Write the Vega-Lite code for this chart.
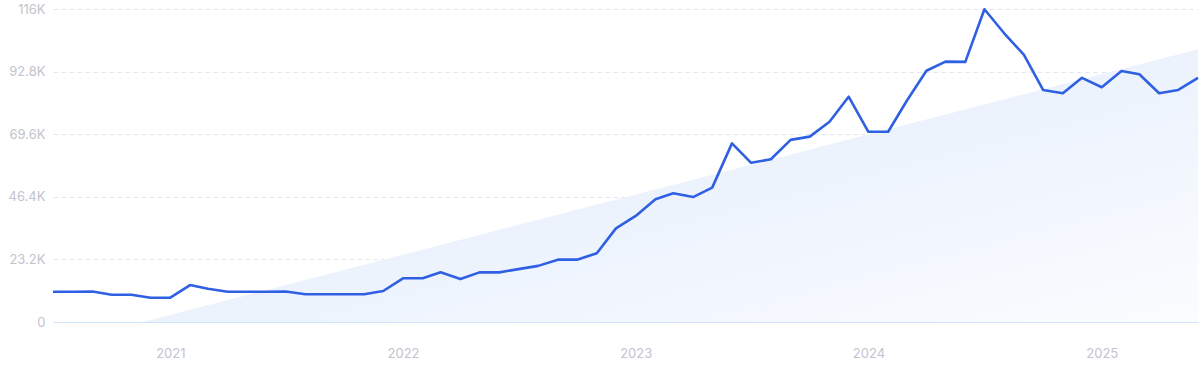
{
  "$schema": "https://vega.github.io/schema/vega-lite/v6.json",
  "width": 1145,
  "height": 313,
  "autosize": {"type": "none"},
  "padding": {"left": 53, "top": 9, "right": 2, "bottom": 49},
  "background": "white",
  "config": {"view": {"stroke": null}, "font": "Inter"},
  "datasets": {
    "series": [
      {"date": "2020-07-01", "value": 11200},
      {"date": "2020-08-01", "value": 11200},
      {"date": "2020-09-01", "value": 11300},
      {"date": "2020-10-01", "value": 10100},
      {"date": "2020-11-01", "value": 10100},
      {"date": "2020-12-01", "value": 9000},
      {"date": "2021-01-01", "value": 9000},
      {"date": "2021-02-01", "value": 13700},
      {"date": "2021-03-01", "value": 12300},
      {"date": "2021-04-01", "value": 11200},
      {"date": "2021-05-01", "value": 11200},
      {"date": "2021-06-01", "value": 11200},
      {"date": "2021-07-01", "value": 11300},
      {"date": "2021-08-01", "value": 10300},
      {"date": "2021-09-01", "value": 10300},
      {"date": "2021-10-01", "value": 10300},
      {"date": "2021-11-01", "value": 10300},
      {"date": "2021-12-01", "value": 11500},
      {"date": "2022-01-01", "value": 16200},
      {"date": "2022-02-01", "value": 16200},
      {"date": "2022-03-01", "value": 18400},
      {"date": "2022-04-01", "value": 15900},
      {"date": "2022-05-01", "value": 18400},
      {"date": "2022-06-01", "value": 18400},
      {"date": "2022-07-01", "value": 19600},
      {"date": "2022-08-01", "value": 20800},
      {"date": "2022-09-01", "value": 23100},
      {"date": "2022-10-01", "value": 23100},
      {"date": "2022-11-01", "value": 25500},
      {"date": "2022-12-01", "value": 34700},
      {"date": "2023-01-01", "value": 39300},
      {"date": "2023-02-01", "value": 45500},
      {"date": "2023-03-01", "value": 47700},
      {"date": "2023-04-01", "value": 46300},
      {"date": "2023-05-01", "value": 49800},
      {"date": "2023-06-01", "value": 66200},
      {"date": "2023-07-01", "value": 59000},
      {"date": "2023-08-01", "value": 60300},
      {"date": "2023-09-01", "value": 67500},
      {"date": "2023-10-01", "value": 68700},
      {"date": "2023-11-01", "value": 74200},
      {"date": "2023-12-01", "value": 83500},
      {"date": "2024-01-01", "value": 70500},
      {"date": "2024-02-01", "value": 70500},
      {"date": "2024-03-01", "value": 81900},
      {"date": "2024-04-01", "value": 93100},
      {"date": "2024-05-01", "value": 96500},
      {"date": "2024-06-01", "value": 96400},
      {"date": "2024-07-01", "value": 115900},
      {"date": "2024-08-01", "value": 107000},
      {"date": "2024-09-01", "value": 99000},
      {"date": "2024-10-01", "value": 86000},
      {"date": "2024-11-01", "value": 84800},
      {"date": "2024-12-01", "value": 90500},
      {"date": "2025-01-01", "value": 87000},
      {"date": "2025-02-01", "value": 93000},
      {"date": "2025-03-01", "value": 91800},
      {"date": "2025-04-01", "value": 84800},
      {"date": "2025-05-01", "value": 86000},
      {"date": "2025-06-01", "value": 90500}
    ],
    "trend": [
      {"date": "2020-11-19", "value": 0},
      {"date": "2025-06-01", "value": 101100}
    ]
  },
  "layer": [
    {
      "data": {"name": "trend"},
      "mark": {
        "type": "area",
        "color": {
          "gradient": "linear",
          "x1": 0, "y1": 0, "x2": 1, "y2": 1,
          "stops": [
            {"offset": 0, "color": "#dce9fb"},
            {"offset": 1, "color": "#fbfcff"}
          ]
        }
      },
      "encoding": {
        "x": {"field": "date", "type": "temporal"},
        "y": {"field": "value", "type": "quantitative"}
      }
    },
    {
      "data": {"name": "series"},
      "mark": {"type": "line", "color": "#2f60e3", "strokeWidth": 2.6, "strokeJoin": "round"},
      "encoding": {
        "x": {
          "field": "date",
          "type": "temporal",
          "scale": {"domain": ["2020-07-01", "2025-06-01"]},
          "axis": {
            "title": null,
            "values": ["2021-01-01", "2022-01-01", "2023-01-01", "2024-01-01", "2025-01-01"],
            "format": "%Y",
            "grid": false,
            "ticks": false,
            "domain": true,
            "domainColor": "#cfe4fa",
            "domainWidth": 1.2,
            "labelColor": "#c3c3cc",
            "labelFontSize": 13,
            "labelPadding": 25,
            "labelFont": "Inter"
          }
        },
        "y": {
          "field": "value",
          "type": "quantitative",
          "scale": {"domain": [0, 116000], "nice": false, "zero": true},
          "axis": {
            "title": null,
            "values": [0, 23200, 46400, 69600, 92800, 116000],
            "labelExpr": "datum.value == 0 ? '0' : format(datum.value / 1000, '~r') + 'K'",
            "ticks": false,
            "domain": false,
            "grid": true,
            "gridColor": "#dfe5f0",
            "gridDash": [4, 4],
            "gridWidth": 1,
            "labelColor": "#c3c3cc",
            "labelFontSize": 13,
            "labelPadding": 8,
            "labelFont": "Inter"
          }
        }
      }
    }
  ]
}
